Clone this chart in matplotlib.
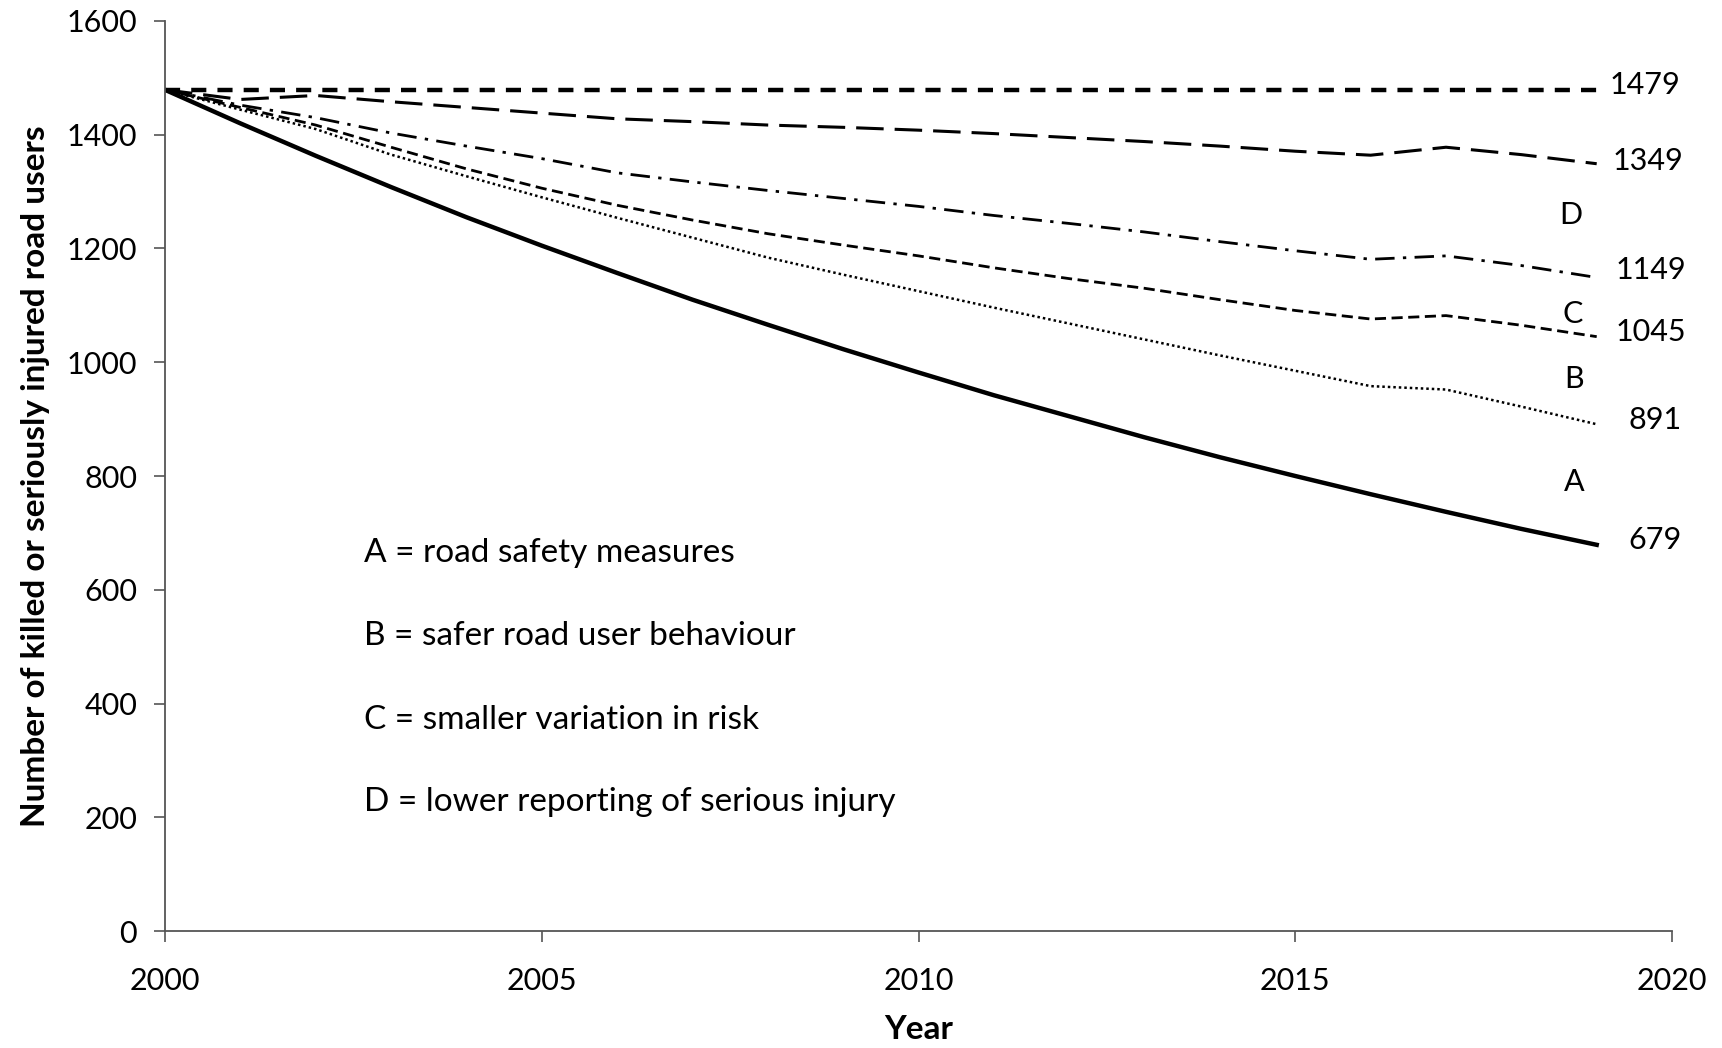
import matplotlib
matplotlib.use("Agg")
import matplotlib.pyplot as plt

plt.rcParams["font.family"] = ["Lato", "DejaVu Sans"]

years = list(range(2000, 2020))

# no change (baseline)
base = [1479] * 20
# D = lower reporting of serious injury (long dash)
d_vals = [1479, 1462, 1469, 1458, 1448, 1438, 1428, 1423, 1417, 1413,
          1408, 1402, 1395, 1388, 1380, 1371, 1364, 1378, 1365, 1349]
# C = smaller variation in risk (dash-dot)
c_vals = [1479, 1452, 1430, 1403, 1380, 1358, 1333, 1317, 1302, 1288,
          1274, 1258, 1244, 1229, 1212, 1196, 1181, 1187, 1170, 1149]
# B = safer road user behaviour (dashed)
b_vals = [1479, 1448, 1417, 1378, 1340, 1306, 1276, 1250, 1226, 1206,
          1187, 1166, 1147, 1130, 1110, 1091, 1076, 1082, 1065, 1045]
# A = road safety measures (dotted)
a_vals = [1479, 1444, 1410, 1365, 1327, 1290, 1254, 1219, 1184, 1154,
          1125, 1096, 1068, 1040, 1012, 985, 958, 952, 922, 891]
# all measures (solid)
all_vals = [1479, 1420, 1363, 1308, 1255, 1205, 1157, 1110, 1066, 1023,
            982, 942, 905, 868, 833, 800, 768, 737, 707, 679]

end_labels = ["1479", "1349", "1149", "1045", "891", "679"]
end_pos = [(2019.64, 1488), (2019.68, 1353), (2019.72, 1162), (2019.72, 1054),
           (2019.77, 898), (2019.78, 687)]
letters = ["D", "C", "B", "A"]
letter_pos = [(2018.65, 1258), (2018.68, 1085), (2018.7, 970), (2018.7, 790)]
legend_lines = ["A = road safety measures", "B = safer road user behaviour",
                "C = smaller variation in risk", "D = lower reporting of serious injury"]
legend_y = [664, 519, 371, 226]

fig = plt.figure(figsize=(17.22, 10.48), dpi=100)
ax = fig.add_axes([0.0958, 0.1116, 0.8752, 0.8684])

ax.plot(years, base, color="black", lw=3.2, linestyle=(0, (3.4, 2.5)))
ax.plot(years, d_vals, color="black", lw=2.2, linestyle=(0, (9, 3.6)))
ax.plot(years, c_vals, color="black", lw=2.0, linestyle=(0, (7, 3, 1.2, 3)))
ax.plot(years, b_vals, color="black", lw=2.0, linestyle=(0, (4, 2)))
ax.plot(years, a_vals, color="black", lw=1.8, linestyle=(0, (1, 1.2)))
ax.plot(years, all_vals, color="black", lw=3.2, linestyle="-")

for txt, (x, y) in zip(end_labels, end_pos):
    ax.text(x, y, txt, fontsize=22, ha="center", va="center")
for txt, (x, y) in zip(letters, letter_pos):
    ax.text(x, y, txt, fontsize=22, ha="center", va="center")
for txt, y in zip(legend_lines, legend_y):
    ax.text(2002.64, y, txt, fontsize=24, ha="left", va="center")

ax.set_xlim(2000, 2020)
ax.set_ylim(0, 1600)
ax.set_xticks(range(2000, 2021, 5))
ax.set_yticks(range(0, 1601, 200))
ax.tick_params(labelsize=22, direction="out", length=8, width=1.2, color="#555555")
ax.tick_params(axis="x", pad=18)
ax.tick_params(axis="y", pad=12)
for s in ["top", "right"]:
    ax.spines[s].set_visible(False)
for s in ["left", "bottom"]:
    ax.spines[s].set_color("#555555")
    ax.spines[s].set_linewidth(1.3)

ax.set_xlabel("Year", fontsize=24, fontweight="bold", labelpad=14)
ax.set_ylabel("Number of killed or seriously injured road users", fontsize=24,
              fontweight="bold", labelpad=12)

fig.savefig("out.png", dpi=100)
